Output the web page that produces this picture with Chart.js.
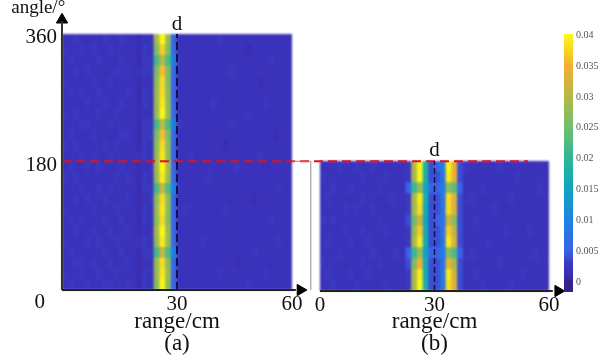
<!DOCTYPE html>
<html>
<head>
<meta charset="utf-8">
<title>range angle maps</title>
<script src="https://cdn.jsdelivr.net/npm/chart.js@4"></script>
<style>
  html, body { margin: 0; padding: 0; background: #fff; }
  #page { position: relative; width: 608px; height: 360px; overflow: hidden; }
  canvas { position: absolute; }
  .heat { filter: blur(1.3px); }
</style>
</head>
<body>
<div id="page">
  <canvas id="heatA" class="heat" style="left:62px;top:34px" width="230" height="256"></canvas>
  <canvas id="heatB" class="heat" style="left:320px;top:161px" width="229" height="130"></canvas>
  <canvas id="axesA" style="left:0;top:0" width="608" height="360"></canvas>
  <canvas id="axesB" style="left:0;top:0" width="608" height="360"></canvas>
  <canvas id="colorbar" style="left:0;top:0" width="608" height="360"></canvas>
</div>
<script>
// range bins in cm, 1.5 cm wide
const rangeBins = [0.75, 2.25, 3.75, 5.25, 6.75, 8.25, 9.75, 11.25, 12.75, 14.25, 15.75, 17.25, 18.75, 20.25, 21.75,
  23.25, 24.75, 26.25, 27.75, 29.25, 30.75, 32.25, 33.75, 35.25, 36.75, 38.25, 39.75, 41.25, 42.75, 44.25,
  45.75, 47.25, 48.75, 50.25, 51.75, 53.25, 54.75, 56.25, 57.75, 59.25];
const rowStep = 15; // degrees per row

// values in 0.001 units, first row is angle 0
const heatA = [
  [2,3,2,2,3,2,2,3,3,2,2,3,2,1,3, 2,27,40,27,5, 2,2,2,2,2,2,2,2,2,2,2,2,3,2,2,2,2,2,2,2],
  [3,2,2,3,2,2,3,2,2,3,2,2,2,1,3, 2,28,39,28,5, 2,2,2,2,2,2,2,3,2,2,2,2,2,2,2,3,2,2,2,2],
  [2,2,3,3,2,3,2,2,3,2,2,3,2,1,2, 2,28,38,27,6, 2,2,2,2,2,2,2,2,2,2,1,2,2,2,2,2,2,2,2,2],
  [2,3,2,2,2,2,2,3,2,2,3,2,2,1,3, 3,22,31,22,9, 3,2,2,2,2,2,2,2,2,2,2,2,2,3,2,2,2,2,2,2],
  [3,2,2,2,3,2,3,2,2,3,2,2,2,2,3, 2,28,39,28,6, 2,2,2,2,3,2,2,2,2,2,2,2,2,2,2,2,2,3,2,2],
  [2,2,3,2,2,3,2,2,3,2,2,3,2,1,2, 2,29,40,28,5, 2,2,2,2,2,2,2,2,2,2,2,2,2,2,2,2,2,2,2,2],
  [2,3,2,3,2,2,2,3,2,2,3,2,2,1,3, 2,27,38,26,5, 2,2,2,2,2,2,2,2,2,2,2,2,2,2,2,2,3,2,2,2],
  [3,2,2,2,2,3,2,2,2,3,2,2,2,1,3, 2,28,39,27,5, 2,3,2,2,2,2,2,2,3,2,2,2,2,2,2,2,2,2,2,2],
  [2,2,3,2,3,2,2,3,2,2,2,3,2,1,2, 3,27,38,27,6, 2,2,2,2,2,2,2,2,2,2,2,2,2,1,2,2,2,2,2,2],
  [2,2,2,3,2,2,3,2,3,2,2,2,2,1,3, 3,22,31,22,9, 3,2,2,2,2,2,2,2,2,2,2,2,2,2,2,2,2,3,2,2],
  [3,2,3,2,2,2,2,2,2,3,2,3,2,1,3, 2,28,39,28,6, 2,2,2,2,2,3,2,2,2,2,2,2,2,2,2,2,2,2,2,2],
  [2,3,2,2,3,2,3,2,2,2,3,2,2,1,2, 2,29,40,29,5, 2,2,2,2,2,2,2,2,2,2,3,2,2,2,2,2,2,2,2,2],
  [2,2,2,3,2,3,2,2,3,2,2,2,2,2,3, 2,28,39,27,5, 2,2,3,2,2,2,2,2,2,2,2,2,2,2,3,2,2,2,2,2],
  [3,2,3,2,2,2,2,3,2,3,2,2,2,1,3, 2,27,38,27,5, 2,2,2,2,2,2,2,2,1,2,2,2,2,2,2,2,2,2,2,2],
  [2,3,2,2,2,3,2,2,2,2,3,3,2,1,3, 3,26,36,26,6, 2,2,2,2,2,2,2,2,2,2,2,2,2,2,2,2,2,1,2,2],
  [2,2,2,3,3,2,2,2,3,2,2,2,2,1,3, 3,22,31,22,9, 3,2,2,2,2,2,2,2,2,3,2,2,2,2,2,2,2,2,2,2],
  [3,2,3,2,2,2,3,2,2,3,2,2,2,1,2, 2,28,40,28,6, 2,2,2,2,2,2,2,2,2,2,2,2,3,2,2,2,2,2,2,2],
  [2,2,2,2,3,2,2,3,2,2,3,2,2,1,3, 2,28,39,27,5, 2,2,2,2,2,2,3,2,2,2,2,2,2,2,2,3,2,2,2,2],
  [2,3,2,3,2,2,3,2,2,2,2,3,2,1,3, 2,28,38,27,5, 2,2,2,2,2,2,2,2,2,2,2,2,2,2,2,2,2,2,2,2],
  [3,2,2,2,2,3,2,2,3,2,2,2,2,1,2, 2,27,38,26,5, 2,2,2,2,2,2,2,2,2,2,2,2,2,2,1,2,2,2,2,2],
  [2,2,3,2,3,2,2,2,2,3,2,3,2,2,3, 3,26,36,26,6, 2,2,2,2,2,2,2,2,2,3,2,2,2,2,2,2,2,2,2,2],
  [2,3,2,2,2,2,3,2,2,2,3,2,2,1,3, 3,22,30,22,9, 3,2,2,2,2,2,2,2,2,2,2,2,2,2,2,2,3,2,2,2],
  [3,2,2,3,2,3,2,2,3,2,2,2,2,1,3, 2,26,37,26,6, 2,2,2,2,2,2,2,2,2,2,2,2,1,2,2,2,2,2,2,2],
  [2,2,3,2,2,2,2,3,2,2,3,2,2,1,2, 2,29,40,28,5, 2,2,2,2,2,2,2,3,2,2,2,2,2,2,2,2,2,2,2,2]
];
const heatB = [
  [2,2,3,2,2,2,3,2,2,2,2,3,2,2,2, 3,29,40,17,4, 4,8,38,33,4,2,2,2,3,2,2,2,2,3,2,2,2,2,2,2],
  [2,3,2,2,2,3,2,2,3,2,2,2,2,2,2, 3,30,39,16,4, 4,8,39,32,4,2,2,3,2,2,2,2,2,2,2,3,2,2,2,2],
  [3,2,2,2,2,2,2,3,2,2,3,2,2,2,2, 4,26,35,16,4, 4,8,34,29,4,2,2,2,2,2,2,3,2,2,2,2,2,2,2,2],
  [2,2,2,3,2,2,2,2,2,3,2,2,2,3,2, 5,21,28,15,5, 5,9,27,23,5,2,3,2,2,2,2,2,2,2,2,2,2,3,2,2],
  [2,3,2,2,2,3,2,2,3,2,2,2,2,2,2, 3,30,39,16,4, 4,8,39,33,4,2,2,2,2,3,2,2,2,2,2,2,2,2,2,2],
  [2,2,2,2,3,2,2,3,2,2,2,3,2,2,2, 3,28,37,16,4, 4,8,37,31,4,2,2,2,2,2,2,2,3,2,2,2,3,2,2,2],
  [3,2,3,2,2,2,2,2,2,2,3,2,2,2,2, 4,25,32,15,4, 5,8,32,27,4,2,2,3,2,2,2,2,2,2,2,2,2,2,2,2],
  [2,2,2,2,3,2,3,2,2,3,2,2,2,2,2, 3,29,38,16,4, 4,8,38,33,4,2,2,2,2,2,3,2,2,2,2,2,2,2,2,2],
  [2,3,2,2,2,2,2,3,2,2,2,2,3,2,2, 3,29,39,17,4, 4,8,38,33,4,2,3,2,2,2,2,2,2,3,2,2,2,2,2,2],
  [2,2,3,2,2,3,2,2,2,2,3,2,2,2,2, 5,21,28,16,5, 5,9,27,24,5,2,2,2,3,2,2,2,2,2,2,2,2,2,3,2],
  [3,2,2,2,2,2,2,3,2,2,2,3,2,2,2, 3,29,40,17,4, 4,8,39,34,4,2,2,2,2,2,2,2,2,2,3,2,2,2,2,2],
  [2,2,2,3,2,2,3,2,2,3,2,2,2,2,2, 3,30,40,18,4, 5,9,40,34,4,3,2,2,2,2,2,3,2,2,2,2,2,2,2,2]
];

// colour map, keyed in the same 0.001 units
const colorStops = [0, 1, 2, 3, 5, 10, 15, 20, 25, 30, 35, 40];
const colorReds = [52, 57, 58, 58, 58, 28, 14, 46, 110, 180, 245, 250];
const colorGreens = [36, 46, 50, 56, 98, 130, 165, 182, 190, 185, 175, 248];
const colorBlues = [135, 178, 186, 192, 232, 224, 190, 150, 110, 70, 50, 20];

const colorTicks = [0, 0.005, 0.01, 0.015, 0.02, 0.025, 0.03, 0.035, 0.04];
const rangeTicks = [0, 30, 60];
const angleTicks = [0, 180, 360];

const SERIF = '"Liberation Serif", "Times New Roman", serif';

function valueColor(v) {
  let i = 0;
  while (i < colorStops.length - 2 && v > colorStops[i + 1]) i++;
  const t = (v - colorStops[i]) / (colorStops[i + 1] - colorStops[i]);
  const mix = (c) => Math.round(c[i] + (c[i + 1] - c[i]) * t);
  return `rgb(${mix(colorReds)},${mix(colorGreens)},${mix(colorBlues)})`;
}

function createHeat(id, rows, maxAngle) {
  new Chart(document.getElementById(id), {
    type: 'bar',
    data: {
      labels: rangeBins,
      datasets: rows.map(row => ({
        data: row.map(() => rowStep),
        backgroundColor: row.map(valueColor),
        barPercentage: 1,
        categoryPercentage: 1,
        borderWidth: 0
      }))
    },
    options: {
      responsive: false,
      animation: false,
      plugins: { legend: { display: false }, tooltip: { enabled: false } },
      scales: {
        x: { stacked: true, display: false },
        y: { stacked: true, display: false, min: 0, max: maxAngle }
      }
    }
  });
}

// small free text labels placed in data coordinates
const notesPlugin = {
  id: 'notes',
  afterDraw(chart, args, opts) {
    const ctx = chart.ctx;
    ctx.save();
    ctx.fillStyle = '#111';
    ctx.textAlign = 'center';
    ctx.textBaseline = 'middle';
    opts.items.forEach(n => {
      ctx.font = `${n.size || 21}px ${SERIF}`;
      ctx.fillText(n.text, chart.scales.x.getPixelForValue(n.x), chart.scales.y.getPixelForValue(n.y));
    });
    ctx.restore();
  }
};

function lineSet(points, color, width, dash) {
  return { data: points, showLine: true, borderColor: color, borderWidth: width, borderDash: dash || [], pointRadius: 0, clip: false };
}
function arrowSet(point, rotation) {
  // big hover radius keeps the arrow from being culled just outside the plot area
  return { data: [point], pointStyle: 'triangle', rotation: rotation, pointRadius: 6.5, pointHoverRadius: 40, backgroundColor: '#000', borderColor: '#000', clip: false };
}

function createAxes(id, cfg) {
  new Chart(document.getElementById(id), {
    type: 'scatter',
    data: { datasets: cfg.datasets },
    plugins: [notesPlugin],
    options: {
      responsive: false,
      animation: false,
      layout: { padding: cfg.padding, autoPadding: false },
      plugins: { legend: { display: false }, tooltip: { enabled: false }, notes: { items: cfg.notes } },
      scales: {
        x: {
          min: 0, max: 60,
          afterFit: s => { s.height = cfg.axisHeight; },
          afterBuildTicks: s => { s.ticks = rangeTicks.map(v => ({ value: v })); },
          grid: { display: false, drawTicks: false },
          border: { display: false },
          ticks: {
            padding: 2, maxRotation: 0, color: '#111', font: { family: SERIF, size: 21 },
            callback: v => (v === 0 && cfg.hideZero) ? '' : v
          },
          title: {
            display: true, text: ['range/cm', cfg.caption], color: '#111', padding: 0,
            font: { family: SERIF, size: 23, lineHeight: 0.96 }
          }
        },
        y: {
          display: cfg.showAngle,
          min: 0, max: cfg.maxAngle,
          afterFit: s => { s.width = cfg.showAngle ? 62 : 0; },
          afterBuildTicks: s => { s.ticks = angleTicks.map(v => ({ value: v })); },
          grid: { display: false, drawTicks: false },
          border: { display: false },
          ticks: {
            padding: 5, labelOffset: 3, color: '#111', font: { family: SERIF, size: 21 },
            callback: v => v === 0 ? '' : v
          }
        }
      }
    }
  });
}

createHeat('heatA', heatA, 360);
createHeat('heatB', heatB, 180);

createAxes('axesA', {
  padding: { left: 0, top: 34, right: 316, bottom: 5 },
  axisHeight: 65, maxAngle: 360, showAngle: true, hideZero: true, caption: '(a)',
  notes: [
    { text: 'angle/°', x: -6.2, y: 397, size: 19 },
    { text: 'd', x: 30, y: 374 },
    { text: '0', x: -5.8, y: -17 }
  ],
  datasets: [
    lineSet([{ x: 0, y: 0 }, { x: 0, y: 378 }], '#333', 2),
    lineSet([{ x: 0, y: 0 }, { x: 61, y: 0 }], '#222', 2),
    arrowSet({ x: 0, y: 380 }, 0),
    arrowSet({ x: 62.2, y: 0 }, 90),
    lineSet([{ x: 30, y: 0 }, { x: 30, y: 360 }], '#14104a', 2, [8, 4]),
    lineSet([{ x: 64.9, y: 0 }, { x: 64.9, y: 181 }, { x: 60, y: 181 }], '#8a8a8a', 1),
    lineSet([{ x: 0, y: 181 }, { x: 121.6, y: 181 }], '#e01020', 2, [9, 5])
  ]
});

createAxes('axesB', {
  padding: { left: 320, top: 161, right: 59, bottom: 5 },
  axisHeight: 64, maxAngle: 180, showAngle: false, hideZero: false, caption: '(b)',
  notes: [{ text: 'd', x: 30, y: 194 }],
  datasets: [
    lineSet([{ x: 0, y: 0 }, { x: 61, y: 0 }], '#222', 2),
    arrowSet({ x: 62.4, y: 0 }, 90),
    lineSet([{ x: 30, y: 0 }, { x: 30, y: 180 }], '#14104a', 1.5, [6, 3])
  ]
});

new Chart(document.getElementById('colorbar'), {
  type: 'bar',
  data: {
    labels: ['scale'],
    datasets: [{
      data: [[-0.0016, 0.0402]],
      barPercentage: 1,
      categoryPercentage: 1,
      backgroundColor: (c) => {
        const area = c.chart.chartArea;
        if (!area) return '#3a34b9';
        const y = c.chart.scales.y;
        const grad = c.chart.ctx.createLinearGradient(0, y.getPixelForValue(0), 0, y.getPixelForValue(0.04));
        colorStops.forEach(v => grad.addColorStop(v / 40, valueColor(v)));
        return grad;
      }
    }]
  },
  options: {
    responsive: false,
    animation: false,
    layout: { padding: { left: 564, top: 34, right: 0, bottom: 68 } },
    plugins: { legend: { display: false }, tooltip: { enabled: false } },
    scales: {
      x: { display: false },
      y: {
        position: 'right',
        min: -0.0016, max: 0.0402,
        afterFit: s => { s.width = 35; },
        afterBuildTicks: s => { s.ticks = colorTicks.map(v => ({ value: v })); },
        grid: { display: false, drawTicks: false },
        border: { display: false },
        ticks: { padding: 3, color: '#555', font: { family: SERIF, size: 10 }, callback: v => String(v) }
      }
    }
  }
});
</script>
</body>
</html>
